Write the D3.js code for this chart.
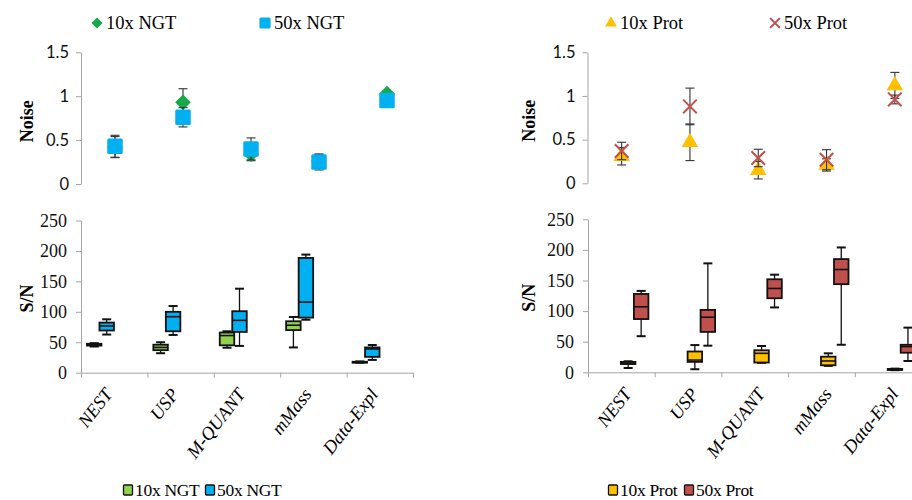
<!DOCTYPE html>
<html><head><meta charset="utf-8">
<script src="https://cdn.jsdelivr.net/npm/d3@7"></script>
<style>body{margin:0;background:#fff} svg{display:block}</style>
</head><body>
<svg id="chart" width="912" height="500"></svg>
<script>
const categories = ["NEST", "USP", "M-QUANT", "mMass", "Data-Expl"];
const noiseTicks = [0, 0.5, 1, 1.5];
const snTicks = [0, 50, 100, 150, 200, 250];

// Noise: mean and error-bar half-width per category
const noise10xNGT = [0.42, 0.93, 0.34, 0.26, 1.03];
const noiseErr10xNGT = [0.12, 0.155, 0.075, 0.08, 0];
const noise50xNGT = [0.43, 0.76, 0.40, 0.25, 0.95];
const noiseErr50xNGT = [0.125, 0.11, 0.125, 0.09, 0];
const noise10xProt = [0.31, 0.47, 0.15, 0.21, 1.12];
const noiseErr10xProt = [0.1, 0.21, 0.1, 0.07, 0.15];
const noise50xProt = [0.37, 0.88, 0.29, 0.27, 0.96];
const noiseErr50xProt = [0.1, 0.21, 0.1, 0.115, 0.05];

// S/N box statistics per category: [min, q1, median, q3, max]
const sn10xNGT = [[43, 44.5, 46, 47.5, 48.5], [32, 37, 41.5, 46, 50], [41, 45, 61, 66, 68], [41.5, 70, 78, 84.5, 91.5], [16.5, 17, 17.5, 18, 18.5]];
const sn50xNGT = [[62.7, 69.3, 76.8, 82.3, 87.7], [62, 68, 92, 100, 109.5], [44, 67, 86, 101, 138], [87, 90.5, 116, 188.5, 194], [21, 26, 39, 41.5, 45.5]];
const sn10xProt = [[7, 13.5, 15, 17, 18], [5, 17, 20, 34, 44.5], [15.5, 16, 31, 36, 43], [10.5, 11.5, 18.5, 25.5, 31], [3.5, 4, 4.5, 5.5, 6]];
const sn50xProt = [[59, 87, 107, 128, 133], [43.5, 66, 90, 102, 178], [106, 121, 137, 152, 159.5], [45, 144, 168, 185, 204], [18.5, 32, 42, 45, 73]];

const seriesNames = ["10x NGT", "50x NGT", "10x Prot", "50x Prot"];

const AXIS = "#a6a6a6";
const SERIF = "'Liberation Serif', 'Times New Roman', serif";
const SANS = "Lato, 'Liberation Sans', sans-serif";

const svg = d3.select("#chart");

const panels = [
  {
    noiseX: [81, 421], noiseY: [184, 52.3],
    snX: [81, 413], snY: [372.7, 220.5],
    axisLabelX: 27, boxOffsets: [-20, -7.5], labelDx: -6,
    noise: [
      {name: seriesNames[0], values: noise10xNGT, err: noiseErr10xNGT, marker: "diamond", color: "#16a84b"},
      {name: seriesNames[1], values: noise50xNGT, err: noiseErr50xNGT, marker: "square", color: "#00b0f0"}
    ],
    boxes: [
      {name: seriesNames[0], stats: sn10xNGT, color: "#92d050"},
      {name: seriesNames[1], stats: sn50xNGT, color: "#00b0f0"}
    ],
    topLegendX: [97, 265], bottomLegendX: [128, 210]
  },
  {
    noiseX: [587.5, 929], noiseY: [183.3, 52.3],
    snX: [588, 921.5], snY: [372.3, 219.3],
    axisLabelX: 529, boxOffsets: [6.8, 19.8], labelDx: 6,
    noise: [
      {name: seriesNames[2], values: noise10xProt, err: noiseErr10xProt, marker: "triangle", color: "#ffc000"},
      {name: seriesNames[3], values: noise50xProt, err: noiseErr50xProt, marker: "cross", color: "#c0504d"}
    ],
    boxes: [
      {name: seriesNames[2], stats: sn10xProt, color: "#ffc000"},
      {name: seriesNames[3], stats: sn50xProt, color: "#c0504d"}
    ],
    topLegendX: [611, 775], bottomLegendX: [613, 689]
  }
];

function drawMarker(g, type, color, x, y, scale = 1) {
  if (type === "diamond") {
    const r = 7.8 * scale;
    g.append("path").attr("d", `M${x},${y - r}L${x + r},${y}L${x},${y + r}L${x - r},${y}Z`).attr("fill", color);
  } else if (type === "square") {
    const s = 15.5 * scale;
    g.append("rect").attr("x", x - s / 2).attr("y", y - s / 2).attr("width", s).attr("height", s)
      .attr("rx", 1.5).attr("fill", color);
  } else if (type === "triangle") {
    g.append("path").attr("transform", `translate(${x},${y})`)
      .attr("d", d3.symbol(d3.symbolTriangle, 118 * scale * scale)()).attr("fill", color);
  } else if (type === "cross") {
    const r = 6.8 * scale;
    g.append("path").attr("d", `M${x - r},${y - r}L${x + r},${y + r}M${x - r},${y + r}L${x + r},${y - r}`)
      .attr("stroke", color).attr("stroke-width", 2).attr("fill", "none");
  }
}

panels.forEach(p => {
  // ---------- Noise panel ----------
  const nx = d3.scaleBand().domain(categories).range(p.noiseX);
  const ny = d3.scaleLinear().domain([0, 1.5]).range(p.noiseY);
  const ng = svg.append("g");

  const nAxis = ng.append("g").attr("transform", `translate(${p.noiseX[0]},0)`)
    .call(d3.axisLeft(ny).tickValues(noiseTicks).tickSize(5).tickSizeOuter(0).tickFormat(d3.format("")));
  nAxis.select(".domain").attr("stroke", AXIS);
  nAxis.selectAll(".tick line").attr("stroke", AXIS);
  nAxis.selectAll(".tick text").attr("font-family", SANS).attr("font-size", 16.5).attr("fill", "#111").attr("x", -12);

  ng.append("text").attr("transform", `translate(${p.axisLabelX},${(p.noiseY[0] + p.noiseY[1]) / 2 + 3}) rotate(-90)`)
    .attr("text-anchor", "middle").attr("dy", "0.35em")
    .attr("font-family", SERIF).attr("font-weight", "bold").attr("font-size", 18).text("Noise");

  p.noise.forEach(s => {
    categories.forEach((c, i) => {
      const cx = nx(c) + nx.bandwidth() / 2;
      const v = s.values[i], e = s.err[i];
      if (e > 0) {
        const eg = ng.append("g").attr("stroke", "#333").attr("stroke-width", 1.1);
        eg.append("line").attr("x1", cx).attr("x2", cx).attr("y1", ny(v - e)).attr("y2", ny(v + e));
        [v - e, v + e].forEach(t => eg.append("line").attr("x1", cx - 4.5).attr("x2", cx + 4.5).attr("y1", ny(t)).attr("y2", ny(t)));
      }
      drawMarker(ng, s.marker, s.color, cx, ny(v));
    });
  });

  // top legend
  p.noise.forEach((s, k) => {
    const lx = p.topLegendX[k], ly = 23;
    drawMarker(svg, s.marker, s.color, lx, ly, 0.72);
    svg.append("text").attr("x", lx + 9).attr("y", ly).attr("dy", "0.35em")
      .attr("font-family", SERIF).attr("font-size", 18.5).text(s.name);
  });

  // ---------- S/N box plot panel ----------
  const sx = d3.scaleBand().domain(categories).range(p.snX);
  const sy = d3.scaleLinear().domain([0, 250]).range(p.snY);
  const sg = svg.append("g");

  const yAxis = sg.append("g").attr("transform", `translate(${p.snX[0]},0)`)
    .call(d3.axisLeft(sy).tickValues(snTicks).tickSize(5).tickSizeOuter(0));
  yAxis.select(".domain").attr("stroke", AXIS);
  yAxis.selectAll(".tick line").attr("stroke", AXIS);
  yAxis.selectAll(".tick text").attr("font-family", SERIF).attr("font-size", 18).attr("fill", "#111").attr("x", -14);

  const boundary = d3.scaleLinear().domain([0, categories.length]).range(p.snX);
  const xAxis = sg.append("g").attr("transform", `translate(0,${p.snY[0]})`)
    .call(d3.axisBottom(boundary).tickValues(d3.range(categories.length + 1)).tickSize(5).tickSizeOuter(0).tickFormat(""));
  xAxis.select(".domain").attr("stroke", AXIS);
  xAxis.selectAll(".tick line").attr("stroke", AXIS);

  sg.append("text").attr("transform", `translate(${p.axisLabelX},${(p.snY[0] + p.snY[1]) / 2 + 2}) rotate(-90)`)
    .attr("text-anchor", "middle").attr("dy", "0.35em")
    .attr("font-family", SERIF).attr("font-weight", "bold").attr("font-size", 18).text("S/N");

  // category labels, slanted
  categories.forEach(c => {
    const cx = sx(c) + sx.bandwidth() / 2 + p.labelDx;
    sg.append("text").attr("transform", `translate(${cx},${p.snY[0] + 18}) rotate(-52)`)
      .attr("text-anchor", "end").attr("dy", "0.35em")
      .attr("font-family", SERIF).attr("font-style", "italic").attr("font-size", 18.5).text(c);
  });

  const bw = 14.5, cap = 9;
  p.boxes.forEach((s, k) => {
    categories.forEach((c, i) => {
      const [mn, q1, md, q3, mx] = s.stats[i];
      const cx = sx(c) + sx.bandwidth() / 2 + p.boxOffsets[k];
      const bg = sg.append("g").attr("stroke", "#111");
      bg.append("line").attr("x1", cx).attr("x2", cx).attr("y1", sy(mn)).attr("y2", sy(mx)).attr("stroke-width", 1.3);
      [mn, mx].forEach(t => bg.append("line").attr("x1", cx - cap / 2).attr("x2", cx + cap / 2)
        .attr("y1", sy(t)).attr("y2", sy(t)).attr("stroke-width", 2));
      bg.append("rect").attr("x", cx - bw / 2).attr("y", sy(q3)).attr("width", bw)
        .attr("height", Math.max(sy(q1) - sy(q3), 1)).attr("fill", s.color).attr("stroke-width", 1.8);
      bg.append("line").attr("x1", cx - bw / 2).attr("x2", cx + bw / 2).attr("y1", sy(md)).attr("y2", sy(md)).attr("stroke-width", 1.6);
    });
  });

  // bottom legend
  p.boxes.forEach((s, k) => {
    const lx = p.bottomLegendX[k], ly = 490;
    svg.append("rect").attr("x", lx - 4.5).attr("y", ly - 5).attr("width", 9).attr("height", 10)
      .attr("rx", 1).attr("fill", s.color).attr("stroke", "#111").attr("stroke-width", 1.3);
    svg.append("text").attr("x", lx + 7).attr("y", ly).attr("dy", "0.35em")
      .attr("font-family", SERIF).attr("font-size", 17.5).attr("letter-spacing", -0.3).text(s.name);
  });
});
</script>
</body></html>
